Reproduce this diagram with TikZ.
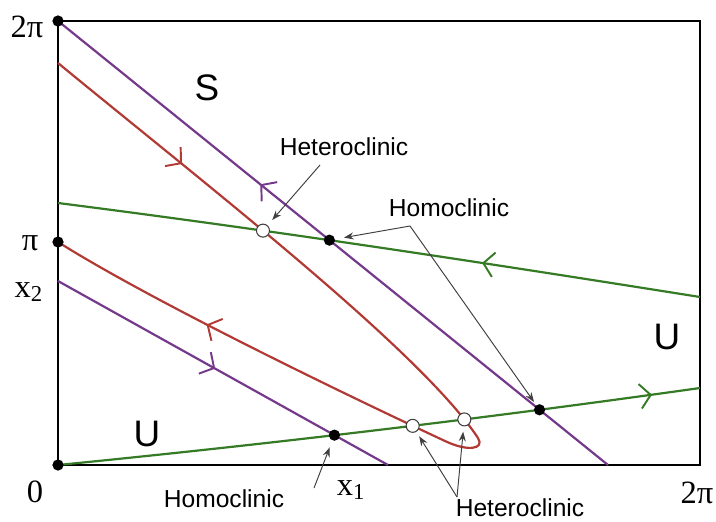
\documentclass[tikz,border=0pt]{standalone}
\usepackage{fontspec}
\setmainfont{Liberation Serif}
\newfontfamily\labelfont{Liberation Sans}
\usepackage{tikz}
\usetikzlibrary{positioning, arrows.meta, decorations.markings, intersections}
\definecolor{orbitPurple}{HTML}{74398A}
\definecolor{orbitRed}{HTML}{B23A34}
\definecolor{orbitGreen}{HTML}{357A24}

\begin{document}
\begin{tikzpicture}[
    x=0.02cm, y=-0.02cm,
    frame/.style={draw, line width=1.2pt},
    orbit/.style={line width=1.25pt},
    flow/.style={postaction={decorate, decoration={markings, mark=at position #1 with {\arrow{Straight Barb[length=6pt, width=14pt, line width=1.1pt]}}}}},
    backflow/.style={postaction={decorate, decoration={markings, mark=at position #1 with {\arrowreversed{Straight Barb[length=6pt, width=14pt, line width=1.1pt]}}}}},
    dot/.style={circle, fill=black, inner sep=0pt, minimum size=6.4pt},
    hole/.style={circle, draw=black!75, fill=white, inner sep=0pt, minimum size=7.4pt, line width=0.6pt},
    pointer/.style={-{Stealth[length=5.5pt, width=4pt]}, line width=0.55pt, black!75, shorten >=2pt},
    lbl/.style={font=\labelfont\fontsize{14}{16}\selectfont, inner sep=0pt},
    region/.style={font=\labelfont\fontsize{21}{24}\selectfont, inner sep=0pt},
    tick/.style={font=\fontsize{18.5}{20}\selectfont, inner sep=0pt},
  ]
    \useasboundingbox (0,0) rectangle (716,521);
    \draw[frame] (58,21) rectangle (700,465);

    \draw[orbit, orbitPurple, name path=purpleA, backflow=5.2cm] (58,21) -- (608,465);
    \draw[orbit, orbitPurple, name path=purpleB, flow=3.6cm] (58,281) -- (388,465);
    \draw[orbit, orbitRed, name path=red, flow=3.2cm, flow=-3.4cm]
      (58,63) .. controls (200,180) and (420,350) .. (478,438)
      .. controls (485,449) and (468,452) .. (445,441)
      .. controls (340,392) and (150,300) .. (58,242);
    \draw[orbit, orbitGreen, name path=greenA, backflow=0.66]
      (58,203) .. controls (270,230) and (480,262) .. (700,297);
    \draw[orbit, orbitGreen, name path=greenB, flow=0.925]
      (58,465) .. controls (270,444) and (480,419) .. (700,388);

    \path[name intersections={of=purpleA and greenA, by=pHomA}];
    \path[name intersections={of=purpleA and greenB, by=pHomB}];
    \path[name intersections={of=purpleB and greenB, by=pHomC}];
    \path[name intersections={of=red and greenA, by=pHetA}];
    \path[name intersections={of=red and greenB, sort by=greenB, by={pHetB, pHetC}}];

    \node[dot] (twoPiDot) at (58,21) {};
    \node[dot] (piDot) at (58,242) {};
    \node[dot] (originDot) at (58,465) {};
    \node[dot] (homA) at (pHomA) {};
    \node[dot] (homB) at (pHomB) {};
    \node[dot] (homC) at (pHomC) {};
    \node[hole] (hetA) at (pHetA) {};
    \node[hole] (hetB) at (pHetB) {};
    \node[hole] (hetC) at (pHetC) {};

    \node[tick] (yTop) at (27,27) {2π};
    \node[tick] (yPi) at (30,243) {π};
    \node[tick] (yX) at (29,292) {x\textsubscript{2}};
    \node[tick] (xZero) at (35,492) {0};
    \node[tick] (xX) at (351,490) {x\textsubscript{1}};
    \node[tick] (xRight) at (697,493) {2π};

    \node[region] (sRegion) at (207,88) {S};
    \node[region] (uLeft) at (147,434) {U};
    \node[region] (uRight) at (667,337) {U};

    \node[lbl] (hetTop) at (344,147) {Heteroclinic};
    \node[lbl] (homTop) at (449,208) {Homoclinic};
    \node[lbl] (homBot) at (224,499) {Homoclinic};
    \node[lbl] (hetBot) at (520,508) {Heteroclinic};

    \coordinate (hetTopFoot) at (320,165);
    \coordinate (homTopFork) at (410,226);
    \coordinate (homBotFoot) at (314,488);
    \coordinate (hetBotFork) at (457,497);

    \draw[pointer, shorten >=4pt] (hetTopFoot) -- (hetA);
    \draw[pointer, shorten >=5pt] (homTopFork) -- (homA);
    \draw[pointer] (homTopFork) -- (homB);
    \draw[pointer, shorten >=4pt] (homBotFoot) -- (homC);
    \draw[pointer, shorten >=3pt] (hetBotFork) -- (hetB);
    \draw[pointer, shorten >=3pt] (hetBotFork) -- (hetC);
  \end{tikzpicture}
\end{document}
